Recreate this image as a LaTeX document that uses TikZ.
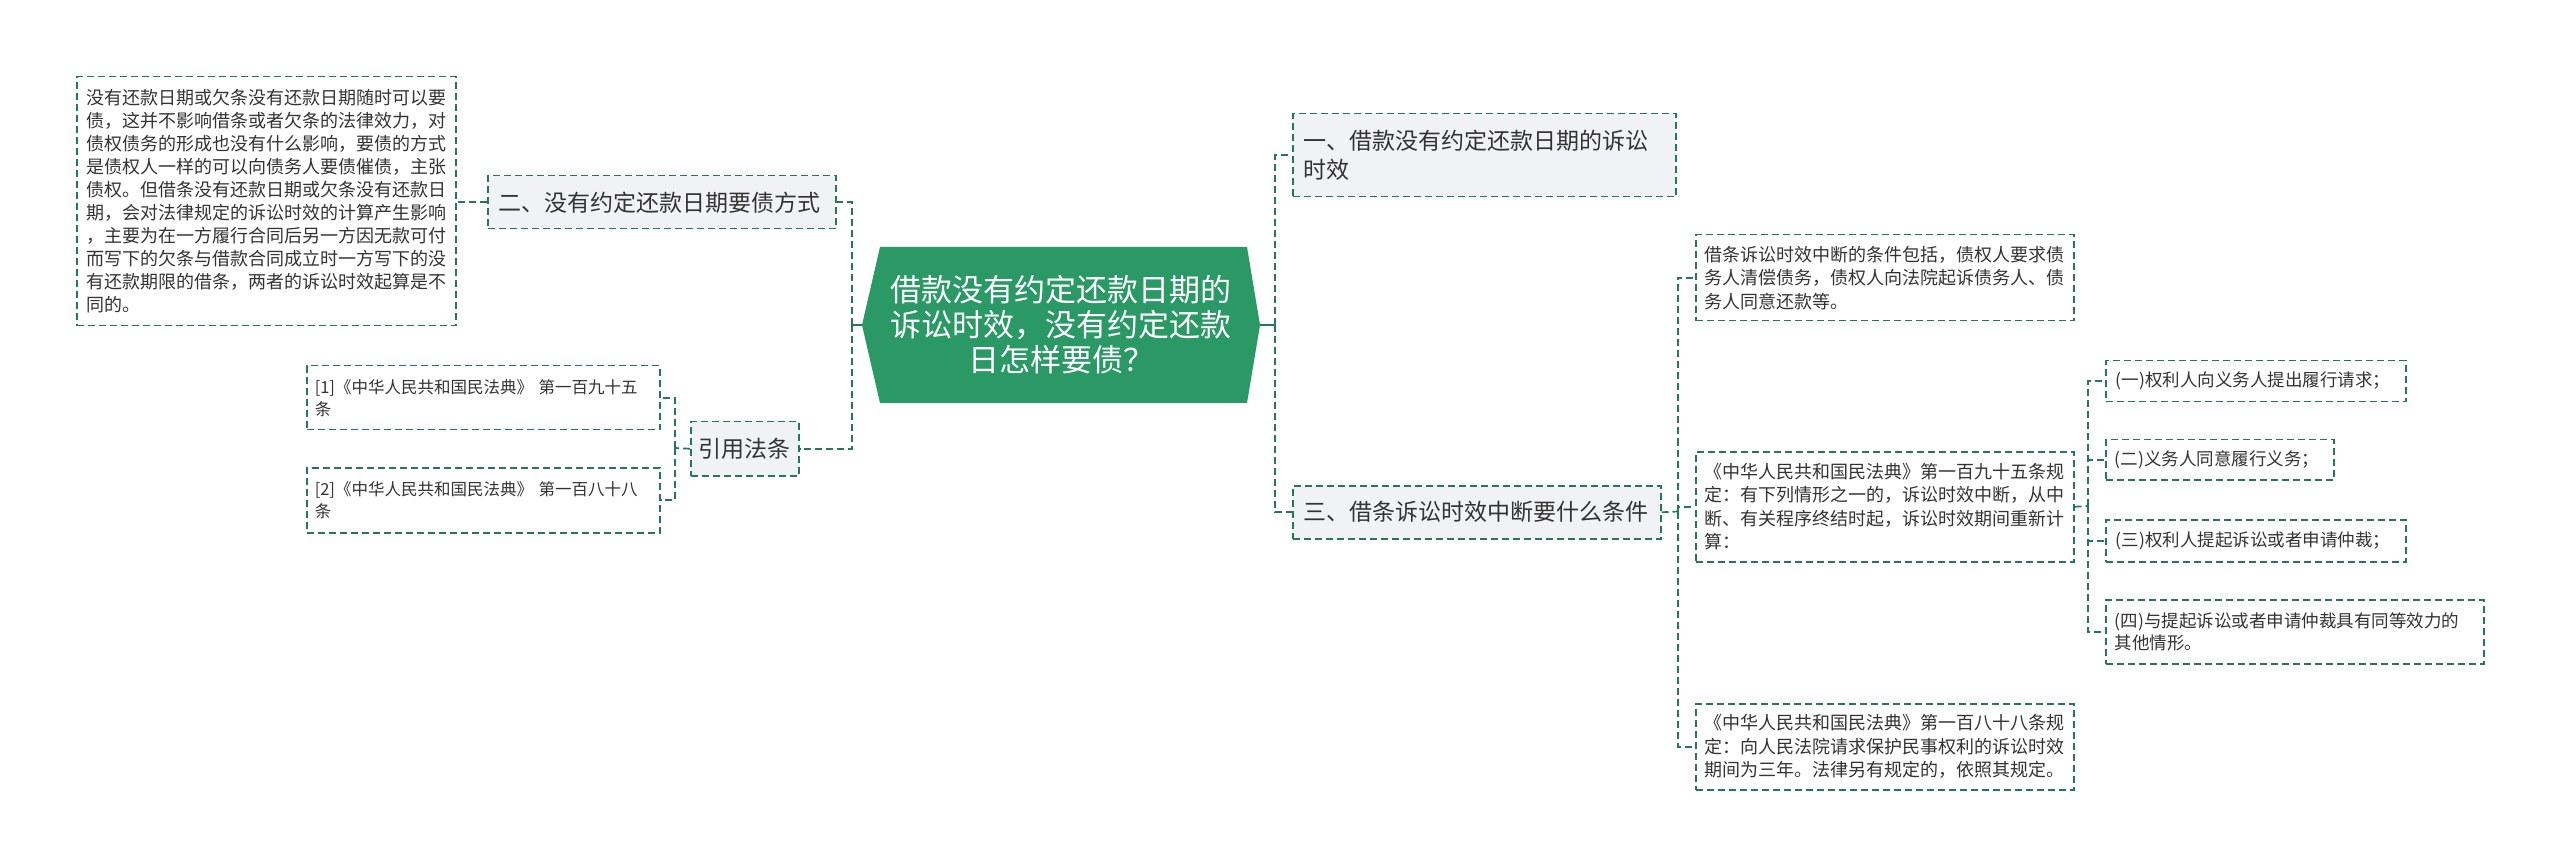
\documentclass[tikz,border=0pt]{standalone}
\usepackage{fontspec}
\newfontfamily\cjk{Noto Sans CJK SC}
\usetikzlibrary{calc}
\definecolor{lineC}{RGB}{36,120,88}
\definecolor{rootC}{RGB}{42,153,101}
\definecolor{grayFill}{RGB}{240,242,245}
\definecolor{txt}{RGB}{51,51,51}
\begin{document}
\begin{tikzpicture}[x=1pt,y=-1pt,
  conn/.style={draw=lineC, line width=1.7pt, dash pattern=on 7pt off 4pt},
  stub/.style={draw=lineC, line width=1.7pt},
  box/.style={draw=lineC, line width=1.5pt, dash pattern=on 7pt off 4pt, anchor=north west, inner ysep=0pt, align=left, text=txt},
  lvl/.style={box, fill=grayFill, font=\cjk\fontsize{23}{29}\selectfont},
  leaf/.style={box, fill=white, font=\cjk\fontsize{18}{23.5}\selectfont},
  sleaf/.style={box, fill=white, font=\cjk\fontsize{17.5}{22}\selectfont},
]
\useasboundingbox (0,0) rectangle (2560,866);
\fill[white] (0,0) rectangle (2560,866);

% root
\fill[rootC] (862,325) -- (880,247) -- (1247,247) -- (1260,325) -- (1247,403) -- (880,403) -- cycle;
\node[minimum width=398pt, minimum height=156pt, inner sep=0pt, text=white, align=center,
      font=\cjk\fontsize{31}{35}\selectfont] (root) at (1061,325)
  {借款没有约定还款日期的\\诉讼时效，没有约定还款\\日怎样要债？};

% left side
\node[leaf, minimum width=379pt, minimum height=249pt, text width=360pt, inner xsep=9.5pt, font=\cjk\fontsize{18}{23}\selectfont] (big) at (76,76)
  {没有还款日期或欠条没有还款日期随时可以要\\
   债，这并不影响借条或者欠条的法律效力，对\\
   债权债务的形成也没有什么影响，要债的方式\\
   是债权人一样的可以向债务人要债催债，主张\\
   债权。但借条没有还款日期或欠条没有还款日\\
   期，会对法律规定的诉讼时效的计算产生影响\\
   ，主要为在一方履行合同后另一方因无款可付\\
   而写下的欠条与借款合同成立时一方写下的没\\
   有还款期限的借条，两者的诉讼时效起算是不\\
   同的。};
\node[lvl, minimum width=348pt, minimum height=53pt, text width=326pt, inner xsep=11pt] (n2) at (487,175)
  {二、没有约定还款日期要债方式};
\node[lvl, minimum width=108pt, minimum height=54pt, text width=92pt, inner xsep=8pt, align=center] (ref) at (690,421)
  {引用法条};
\node[box, fill=white, font=\cjk\fontsize{16.5}{22}\selectfont, minimum width=353pt, minimum height=64pt, text width=337pt, inner xsep=8pt] (c1) at (306,365)
  {\mbox{[1]《中华人民共和国民法典》 第一百九十五}\\条};
\node[box, fill=white, font=\cjk\fontsize{16.5}{22}\selectfont, minimum width=353pt, minimum height=65pt, text width=337pt, inner xsep=8pt] (c2) at (306,467)
  {\mbox{[2]《中华人民共和国民法典》 第一百八十八}\\条};

% right side
\node[lvl, minimum width=383pt, minimum height=83pt, text width=361pt, inner xsep=11pt] (n1) at (1292,113)
  {一、借款没有约定还款日期的诉讼\\时效};
\node[lvl, minimum width=368pt, minimum height=53pt, text width=346pt, inner xsep=11pt] (n3) at (1292,485)
  {三、借条诉讼时效中断要什么条件};
\node[leaf, minimum width=378pt, minimum height=86pt, text width=360pt, inner xsep=9pt] (d1) at (1695,234)
  {借条诉讼时效中断的条件包括，债权人要求债\\务人清偿债务，债权人向法院起诉债务人、债\\务人同意还款等。};
\node[leaf, minimum width=378pt, minimum height=110pt, text width=360pt, inner xsep=9pt] (d2) at (1695,451)
  {《中华人民共和国民法典》第一百九十五条规\\定：有下列情形之一的，诉讼时效中断，从中\\断、有关程序终结时起，诉讼时效期间重新计\\算：};
\node[leaf, minimum width=378pt, minimum height=86pt, text width=360pt, inner xsep=9pt] (d3) at (1695,703)
  {《中华人民共和国民法典》第一百八十八条规\\定：向人民法院请求保护民事权利的诉讼时效\\期间为三年。法律另有规定的，依照其规定。};
\node[sleaf, minimum width=300pt, minimum height=41pt, text width=280pt, inner xsep=10pt] (e1) at (2105,360)
  {(一)权利人向义务人提出履行请求；};
\node[sleaf, minimum width=228pt, minimum height=40pt, text width=210pt, inner xsep=9pt] (e2) at (2105,439)
  {(二)义务人同意履行义务；};
\node[sleaf, minimum width=300pt, minimum height=42pt, text width=280pt, inner xsep=10pt] (e3) at (2105,519)
  {(三)权利人提起诉讼或者申请仲裁；};
\node[sleaf, minimum width=378pt, minimum height=64pt, text width=360pt, inner xsep=9pt] (e4) at (2105,599)
  {(四)与提起诉讼或者申请仲裁具有同等效力的\\其他情形。};

% connectors left
\coordinate (fL) at (852,325);
\draw[stub] (root.west) -- (fL);
\draw[conn] (fL) |- (n2.east);
\draw[conn] (fL) |- (ref.east);
\draw[conn] (n2.west) -- (n2.west -| big.east);
\coordinate (fRef) at (675,448);
\draw[conn] (ref.west) -- (fRef);
\draw[conn] (fRef) |- (c1.east);
\draw[conn] (fRef) |- (c2.east);

% connectors right
\coordinate (fR) at (1275,325);
\draw[stub] (root.east) -- (fR);
\draw[conn] (fR) |- (n1.west);
\draw[conn] (fR) |- (n3.west);
\coordinate (f3) at (1678,511.5);
\draw[conn] (n3.east) -- (f3);
\draw[conn] (f3) |- (d1.west);
\draw[conn] (f3) |- (d2.west);
\draw[conn] (f3) |- (d3.west);
\coordinate (f4) at (2088,506);
\draw[conn] (d2.east) -- (f4);
\draw[conn] (f4) |- (e1.west);
\draw[conn] (f4) |- (e2.west);
\draw[conn] (f4) |- (e3.west);
\draw[conn] (f4) |- (e4.west);
\end{tikzpicture}
\end{document}
